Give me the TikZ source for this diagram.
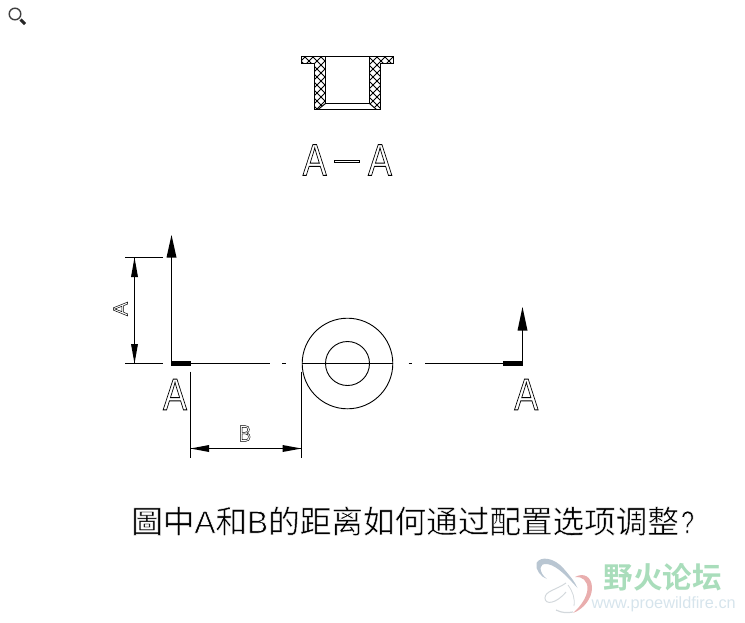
\documentclass[tikz,border=0pt]{standalone}
\usepackage{fontspec}
\setmainfont{Liberation Sans}
\newfontfamily\cjk{Noto Sans CJK SC}
\newfontfamily\cjkb{Noto Sans CJK SC}[BoldFont={* Bold}]
\newcommand\hollowtxt[2][0.85]{\special{pdf:code 1 Tr #1 w}#2\special{pdf:code 0 Tr 1 w}}
\newcommand\thintxt[1]{\special{pdf:code 2 Tr 0.45 w 1 G}#1\special{pdf:code 0 Tr 1 w 0 G}}
\newcommand\lighttxt[1]{\special{pdf:code 2 Tr 0.7 w 1 G}#1\special{pdf:code 0 Tr 1 w 0 G}}
\tikzset{
  lin/.style={line width=1pt,black},
  big/.style={inner sep=0pt,font=\fontsize{44.7}{46}\selectfont,transform shape,xscale=.8},
  hatch/.style={line width=.9pt,black}
}
\definecolor{wmblue}{HTML}{B9C6D2}
\definecolor{wmred}{HTML}{E9AEAE}
\definecolor{wmgray}{HTML}{D3D8DC}
\definecolor{wmgreen}{HTML}{A9DDBB}
\definecolor{wmurl}{HTML}{D6E4EC}
\begin{document}
\begin{tikzpicture}[x=1pt,y=-1pt]
\useasboundingbox (0,0) rectangle (745,622);
% magnifier
\draw[line width=1.4pt,black!75] (15,14) circle (5.8);
\draw[line width=3pt,black!85] (20.5,19.5) -- (25,24);
% section view
\begin{scope}
\clip (301.5,56) -- (325.5,56) -- (325.5,103.5) -- (318,109.5) -- (314.5,109.5) -- (314.5,63) -- (301.5,63) -- cycle
      (393.5,56) -- (369.5,56) -- (369.5,103.5) -- (376.5,109.5) -- (380.5,109.5) -- (380.5,63) -- (393.5,63) -- cycle;
\foreach \d in {-160,-152,...,500} {
  \draw[hatch] (\d,0) -- (\d+130,130);
  \draw[hatch] (\d,130) -- (\d+130,0);
}
\end{scope}
\draw[lin] (301.5,56) -- (393.5,56) -- (393.5,63) -- (380.5,63) -- (380.5,109.5) -- (314.5,109.5) -- (314.5,63) -- (301.5,63) -- cycle;
\draw[lin] (325.5,56) -- (325.5,103.5) -- (369.5,103.5) -- (369.5,56);
\draw[lin] (325.5,103.5) -- (318,109.5) (369.5,103.5) -- (376.5,109.5);
% section label
\node[big] (secA) at (314.7,160) {\hollowtxt{A}};
\node[big] (secB) at (380,160) {\hollowtxt{A}};
\draw[line width=.9pt] (334.5,160.2) rectangle (359.8,162.8);
% centre line
\coordinate (barL) at (171,363.5);
\coordinate (barLe) at (191,363.5);
\coordinate (barR) at (523,363.5);
\coordinate (barRe) at (503,363.5);
\draw[lin] (barLe) -- (270,363.5);
\draw[lin] (282,363.5) -- (286,363.5);
\draw[lin] (301.7,363.5) -- (393.3,363.5);
\draw[lin] (408.5,363.5) -- (412,363.5);
\draw[lin] (425,363.5) -- (barRe);
\fill (barL) ++(0,-2.2) rectangle ++(20,4.4);
\fill (barRe) ++(0,-2.2) rectangle ++(20,4.4);
% view arrows
\draw[lin] (171.5,363.5) -- (171.5,250);
\fill (166.5,257.5) -- (171.5,235) -- (176.5,257.5) -- cycle;
\draw[lin] (522.5,363.5) -- (522.5,325);
\fill (517.5,330.5) -- (522.5,307) -- (527.5,330.5) -- cycle;
\node[big] (lblL) at (175,394.5) {\hollowtxt{A}};
\node[big] (lblR) at (526.3,394.5) {\hollowtxt{A}};
% part circles
\draw[line width=.9pt] (347.5,363.5) circle (45.3);
\draw[line width=.9pt] (347.5,363.5) circle (22);
% dimension A
\draw[lin] (125,257.5) -- (163,257.5);
\draw[lin] (125,363.5) -- (163,363.5);
\draw[lin] (134.5,257.5) -- (134.5,363.5);
\fill (134.5,257.5) -- (131,277) -- (138,277) -- cycle;
\fill (134.5,363.5) -- (131,344) -- (138,344) -- cycle;
\node[inner sep=0pt,font=\fontsize{21}{22}\selectfont,rotate=90] (dimA) at (120.5,309) {\hollowtxt[0.5]{A}};
% dimension B
\draw[lin] (190.5,371.5) -- (190.5,458);
\draw[lin] (301.5,371.5) -- (301.5,458);
\draw[lin] (190.5,448.5) -- (301.5,448.5);
\fill (190.5,448.5) -- (209,445) -- (209,452) -- cycle;
\fill (301.5,448.5) -- (282.5,445) -- (282.5,452) -- cycle;
\node[inner sep=0pt,font=\fontsize{23}{24}\selectfont,transform shape,xscale=.8] (dimB) at (245,433.5) {\hollowtxt[0.5]{B}};
% question
\node[anchor=west,inner sep=0pt,font=\fontsize{31.6}{33}\selectfont] (question) at (131,521)
  {\cjk\thintxt{圖中}{\rmfamily\lighttxt{A}}\thintxt{和}{\rmfamily\lighttxt{B}}\thintxt{的距离如何通过配置选项调整}\hspace{2pt}{\rmfamily\scalebox{.75}[1]{\lighttxt{?}}}};
% watermark
\fill[wmblue] (536.5,563) .. controls (540,556) and (554,557) .. (564,569) .. controls (570,576) and (575,582) .. (577.5,588)
  .. controls (571,581) and (566,575) .. (558,569) .. controls (550,563) and (541,562) .. (540.5,568)
  .. controls (540.5,572) and (543,576) .. (547,579) .. controls (541,577) and (535,570) .. (536.5,563) -- cycle;
\fill[wmred] (575,577) .. controls (584,572) and (592,577) .. (592,588) .. controls (592,598) and (584,609) .. (573,613)
  .. controls (581,606) and (587,597) .. (587.5,589) .. controls (588,581) and (582,576) .. (575,577) -- cycle;
\draw[line width=1pt,wmgray] (566,583) .. controls (556,590) and (545,591) .. (545,598) .. controls (545,605) and (556,604) .. (566,592);
\draw[line width=1.2pt,wmgray] (556,610) .. controls (562,613) and (567,613) .. (573,612);
\draw[line width=.8pt,wmgray] (568,585) .. controls (573,592) and (575,598) .. (574,606);
\node[anchor=west,inner sep=0pt,font=\fontsize{29.5}{30}\selectfont\cjkb\bfseries,color=wmgreen] (wmA) at (603.5,577) {野火论坛};
\node[anchor=west,inner sep=0pt,font=\fontsize{16.3}{17}\selectfont,color=wmurl] (wmB) at (591.5,604) {www.proewildfire.cn};
\end{tikzpicture}
\end{document}
